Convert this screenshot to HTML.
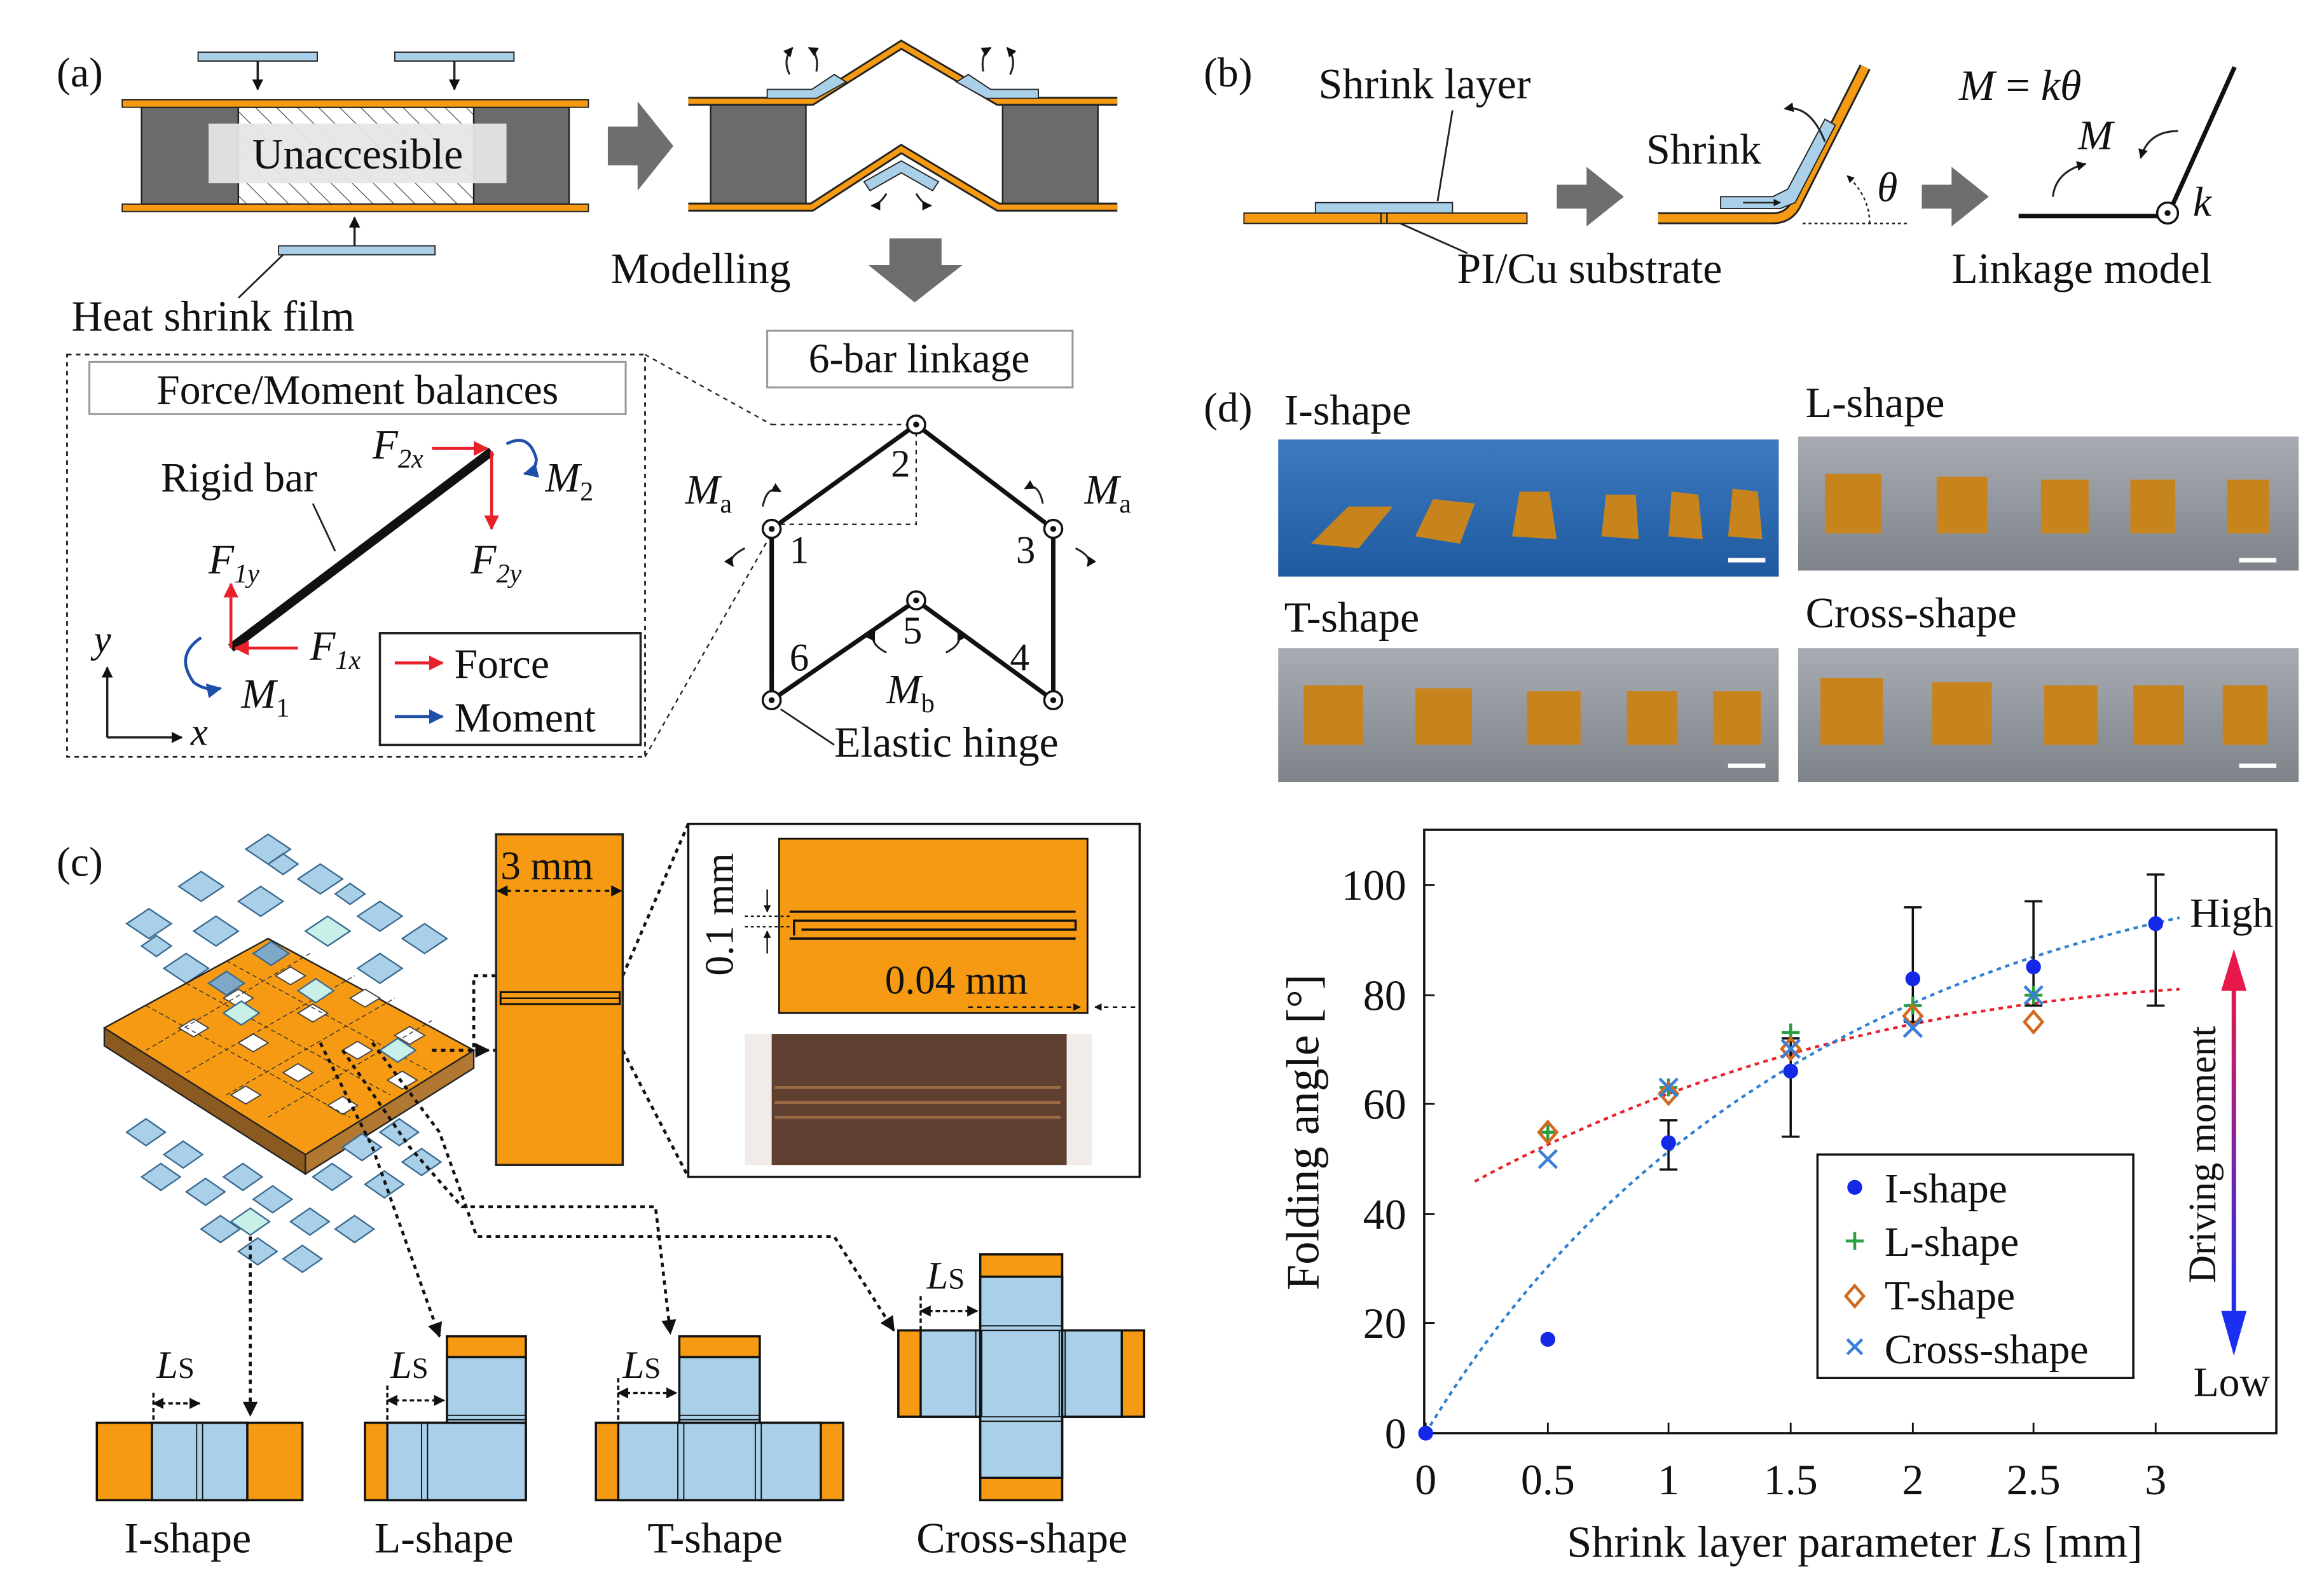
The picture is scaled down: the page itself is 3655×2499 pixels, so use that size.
<!DOCTYPE html>
<html><head><meta charset="utf-8"><style>
html,body{margin:0;padding:0;background:#fff}
svg{display:block}
text{font-family:"Liberation Serif",serif;fill:#111}
</style></head><body>
<svg width="3655" height="2499" viewBox="0 0 1560 1066.6" xmlns="http://www.w3.org/2000/svg">
<defs>
<pattern id="hat" width="10" height="10" patternUnits="userSpaceOnUse" patternTransform="rotate(-45)"><line x1="0" y1="0" x2="0" y2="10" stroke="#444" stroke-width="1"/></pattern>
<marker id="ah" viewBox="0 0 10 10" refX="9" refY="5" markerWidth="5" markerHeight="5" orient="auto-start-reverse"><path d="M0,0L10,5L0,10z" fill="#111"/></marker>
<marker id="ahr" viewBox="0 0 10 10" refX="9" refY="5" markerWidth="5" markerHeight="5" orient="auto"><path d="M0,0L10,5L0,10z" fill="#e8202a"/></marker>
<marker id="ahb" viewBox="0 0 10 10" refX="9" refY="5" markerWidth="5" markerHeight="5" orient="auto"><path d="M0,0L10,5L0,10z" fill="#1f4fa8"/></marker>
<linearGradient id="dm" x1="0" y1="0" x2="0" y2="1"><stop offset="0" stop-color="#e8194a"/><stop offset="1" stop-color="#1c2ef0"/></linearGradient>
<linearGradient id="ph1" x1="0" y1="0" x2="0" y2="1"><stop offset="0" stop-color="#3d7ac0"/><stop offset="1" stop-color="#1f5aa0"/></linearGradient>
<linearGradient id="ph2" x1="0" y1="0" x2="0" y2="1"><stop offset="0" stop-color="#a8acb2"/><stop offset="1" stop-color="#7e838a"/></linearGradient>
</defs>

<!-- ============ (a) ============ -->
<text x="38" y="58" font-size="28">(a)</text>
<rect x="95" y="72" width="65" height="65" fill="#6b6b6b" stroke="#222"/>
<rect x="318" y="72" width="64" height="65" fill="#6b6b6b" stroke="#222"/>
<rect x="160" y="72" width="158" height="65" fill="url(#hat)" stroke="#222"/>
<rect x="82" y="67" width="313" height="5" fill="#f59a12" stroke="#222" stroke-width="0.8"/>
<rect x="82" y="137" width="313" height="5" fill="#f59a12" stroke="#222" stroke-width="0.8"/>
<rect x="140" y="83" width="200" height="40" fill="#e6e6e6" opacity="0.95"/>
<text x="240" y="113" font-size="29" text-anchor="middle" font-family="Liberation Sans">Unaccesible</text>
<rect x="133" y="35" width="80" height="6" fill="#a9d0e8" stroke="#222" stroke-width="0.8"/>
<rect x="265" y="35" width="80" height="6" fill="#a9d0e8" stroke="#222" stroke-width="0.8"/>
<line x1="173" y1="41" x2="173" y2="60" stroke="#222" stroke-width="1.5" marker-end="url(#ah)"/>
<line x1="305" y1="41" x2="305" y2="60" stroke="#222" stroke-width="1.5" marker-end="url(#ah)"/>
<rect x="187" y="165" width="105" height="6" fill="#a9d0e8" stroke="#222" stroke-width="0.8"/>
<line x1="238" y1="165" x2="238" y2="146" stroke="#222" stroke-width="1.5" marker-end="url(#ah)"/>
<line x1="190" y1="171" x2="160" y2="200" stroke="#222" stroke-width="1.2"/>
<text x="48" y="222" font-size="29">Heat shrink film</text>
<polygon points="408,85 428,85 428,68 452,98 428,128 428,111 408,111" fill="#6e6e6e"/>
<rect x="477" y="70" width="64" height="67" fill="#6b6b6b" stroke="#222"/>
<rect x="673" y="70" width="64" height="67" fill="#6b6b6b" stroke="#222"/>
<polyline points="462,68 545,68 605,30 670,68 750,68" fill="none" stroke="#222" stroke-width="6"/>
<polyline points="462,68 545,68 605,30 670,68 750,68" fill="none" stroke="#f59a12" stroke-width="3.5"/>
<polyline points="462,139 545,139 605,100 670,139 750,139" fill="none" stroke="#222" stroke-width="6"/>
<polyline points="462,139 545,139 605,100 670,139 750,139" fill="none" stroke="#f59a12" stroke-width="3.5"/>
<polygon points="515,60 545,60 560,50 568,55 548,66 515,66" fill="#a9d0e8" stroke="#222" stroke-width="0.8"/>
<polygon points="642,55 650,50 665,60 697,60 697,66 662,66" fill="#a9d0e8" stroke="#222" stroke-width="0.8"/>
<polygon points="580,122 605,108 630,122 626,128 605,116 584,128" fill="#a9d0e8" stroke="#222" stroke-width="0.8"/>
<path d="M530,50 q-5,-10 2,-18" fill="none" stroke="#222" stroke-width="1.3" marker-end="url(#ah)"/>
<path d="M548,48 q2,-12 -5,-16" fill="none" stroke="#222" stroke-width="1.3" marker-end="url(#ah)"/>
<path d="M660,48 q-2,-12 5,-16" fill="none" stroke="#222" stroke-width="1.3" marker-end="url(#ah)"/>
<path d="M678,50 q5,-10 -2,-18" fill="none" stroke="#222" stroke-width="1.3" marker-end="url(#ah)"/>
<path d="M595,130 q-5,8 -10,8" fill="none" stroke="#222" stroke-width="1.3" marker-end="url(#ah)"/>
<path d="M615,130 q5,8 10,8" fill="none" stroke="#222" stroke-width="1.3" marker-end="url(#ah)"/>
<text x="410" y="190" font-size="29">Modelling</text>
<polygon points="597,160 632,160 632,178 646,178 614,203 583,178 597,178" fill="#6e6e6e"/>
<rect x="45" y="238" width="388" height="270" fill="none" stroke="#222" stroke-dasharray="3,3" stroke-width="1.2"/>
<rect x="60" y="243" width="360" height="35" fill="#fff" stroke="#999" stroke-width="1.3"/>
<text x="240" y="271" font-size="28" text-anchor="middle">Force/Moment balances</text>
<line x1="155" y1="435" x2="330" y2="303" stroke="#111" stroke-width="6"/>
<text x="108" y="330" font-size="28">Rigid bar</text>
<line x1="210" y1="338" x2="225" y2="370" stroke="#222" stroke-width="1.2"/>
<g stroke="#e8202a" stroke-width="2" fill="none">
<line x1="290" y1="301" x2="327" y2="301" marker-end="url(#ahr)"/>
<line x1="330" y1="303" x2="330" y2="355" marker-end="url(#ahr)"/>
<line x1="155" y1="435" x2="155" y2="392" marker-end="url(#ahr)"/>
<line x1="200" y1="435" x2="158" y2="435" marker-end="url(#ahr)"/>
</g>
<text x="250" y="308" font-size="28" font-style="italic" fill="#e8202a">F<tspan font-size="18" dy="6">2x</tspan></text>
<text x="316" y="385" font-size="28" font-style="italic" fill="#e8202a">F<tspan font-size="18" dy="6">2y</tspan></text>
<text x="140" y="385" font-size="28" font-style="italic" fill="#e8202a">F<tspan font-size="18" dy="6">1y</tspan></text>
<text x="208" y="443" font-size="28" font-style="italic" fill="#e8202a">F<tspan font-size="18" dy="6">1x</tspan></text>
<path d="M340,298 q15,-8 20,10 q0,8 -8,10" fill="none" stroke="#1f4fa8" stroke-width="2" marker-end="url(#ahb)"/>
<text x="366" y="330" font-size="28" font-style="italic" fill="#1f4fa8">M<tspan font-size="18" dy="6" font-style="normal">2</tspan></text>
<path d="M135,428 q-18,12 -5,30 q8,6 18,4" fill="none" stroke="#1f4fa8" stroke-width="2" marker-end="url(#ahb)"/>
<text x="162" y="475" font-size="28" font-style="italic" fill="#1f4fa8">M<tspan font-size="18" dy="6" font-style="normal">1</tspan></text>
<line x1="72" y1="495" x2="72" y2="448" stroke="#222" stroke-width="1.5" marker-end="url(#ah)"/>
<line x1="72" y1="495" x2="122" y2="495" stroke="#222" stroke-width="1.5" marker-end="url(#ah)"/>
<text x="63" y="438" font-size="26" font-style="italic">y</text>
<text x="128" y="500" font-size="26" font-style="italic">x</text>
<rect x="255" y="425" width="175" height="75" fill="#fff" stroke="#222" stroke-width="1.5"/>
<line x1="265" y1="445" x2="297" y2="445" stroke="#e8202a" stroke-width="2" marker-end="url(#ahr)"/>
<line x1="265" y1="481" x2="297" y2="481" stroke="#1f4fa8" stroke-width="2" marker-end="url(#ahb)"/>
<text x="305" y="455" font-size="28">Force</text>
<text x="305" y="491" font-size="28">Moment</text>
<line x1="433" y1="238" x2="518" y2="285" stroke="#222" stroke-dasharray="3,3"/>
<line x1="433" y1="508" x2="518" y2="358" stroke="#222" stroke-dasharray="3,3"/>
<rect x="515" y="222" width="205" height="38" fill="#fff" stroke="#999" stroke-width="1.3"/>
<text x="617" y="250" font-size="28" text-anchor="middle">6-bar linkage</text>
<polyline points="518,470 518,355 615,285 707,355 707,470 615,403 518,470" fill="none" stroke="#111" stroke-width="3"/>
<polyline points="518,285 615,285 615,352 518,352" fill="none" stroke="#222" stroke-dasharray="3,3"/>
<g fill="#fff" stroke="#111" stroke-width="1.5">
<circle cx="518" cy="355" r="6"/><circle cx="615" cy="285" r="6"/><circle cx="707" cy="355" r="6"/>
<circle cx="707" cy="470" r="6"/><circle cx="615" cy="403" r="6"/><circle cx="518" cy="470" r="6"/>
</g>
<g fill="#111"><circle cx="518" cy="355" r="2"/><circle cx="615" cy="285" r="2"/><circle cx="707" cy="355" r="2"/><circle cx="707" cy="470" r="2"/><circle cx="615" cy="403" r="2"/><circle cx="518" cy="470" r="2"/></g>
<text x="530" y="378" font-size="26">1</text><text x="598" y="320" font-size="26">2</text><text x="682" y="378" font-size="26">3</text>
<text x="678" y="450" font-size="26">4</text><text x="606" y="432" font-size="26">5</text><text x="530" y="450" font-size="26">6</text>
<text x="460" y="338" font-size="28" font-style="italic">M<tspan font-size="18" dy="6" font-style="normal">a</tspan></text>
<text x="728" y="338" font-size="28" font-style="italic">M<tspan font-size="18" dy="6" font-style="normal">a</tspan></text>
<text x="595" y="472" font-size="28" font-style="italic">M<tspan font-size="18" dy="6" font-style="normal">b</tspan></text>
<path d="M512,340 q3,-15 12,-10" fill="none" stroke="#222" stroke-width="1.3" marker-end="url(#ah)"/>
<path d="M500,368 q-12,6 -8,12" fill="none" stroke="#222" stroke-width="1.3" marker-end="url(#ah)"/>
<path d="M700,338 q-3,-15 -12,-10" fill="none" stroke="#222" stroke-width="1.3" marker-end="url(#ah)"/>
<path d="M722,368 q12,6 8,12" fill="none" stroke="#222" stroke-width="1.3" marker-end="url(#ah)"/>
<path d="M595,438 q-12,-6 -8,-14" fill="none" stroke="#222" stroke-width="1.3" marker-end="url(#ah)"/>
<path d="M635,438 q12,-6 8,-14" fill="none" stroke="#222" stroke-width="1.3" marker-end="url(#ah)"/>
<line x1="524" y1="476" x2="560" y2="500" stroke="#222" stroke-width="1.2"/>
<text x="560" y="508" font-size="29">Elastic hinge</text>

<!-- ============ (b) ============ -->
<text x="808" y="58" font-size="28">(b)</text>
<rect x="835" y="143" width="190" height="7" fill="#f59a12" stroke="#222" stroke-width="0.8"/>
<rect x="883" y="136" width="92" height="7" fill="#a9d0e8" stroke="#222" stroke-width="0.8"/>
<line x1="927" y1="143" x2="927" y2="150" stroke="#222"/><line x1="931" y1="143" x2="931" y2="150" stroke="#222"/>
<text x="885" y="66" font-size="29">Shrink layer</text>
<line x1="975" y1="74" x2="965" y2="135" stroke="#222" stroke-width="1.2"/>
<line x1="940" y1="150" x2="985" y2="170" stroke="#222" stroke-width="1.2"/>
<text x="978" y="190" font-size="29">PI/Cu substrate</text>
<polygon points="1045,124 1065,124 1065,112 1090,132 1065,152 1065,140 1045,140" fill="#6e6e6e"/>
<path d="M1113,146.5 L1190,146.5 Q1200,146.5 1205,138 L1252,45" fill="none" stroke="#222" stroke-width="8"/>
<path d="M1113,146.5 L1190,146.5 Q1200,146.5 1205,138 L1252,45" fill="none" stroke="#f59a12" stroke-width="5.5"/>
<polygon points="1155,132 1190,132 1200,127 1225,80 1232,84 1205,136 1195,140 1155,140" fill="#a9d0e8" stroke="#222" stroke-width="0.8"/>
<text x="1105" y="110" font-size="29">Shrink</text>
<path d="M1225,95 q-10,-25 -27,-22" fill="none" stroke="#222" stroke-width="1.3" marker-end="url(#ah)"/>
<line x1="1170" y1="136" x2="1195" y2="136" stroke="#222" stroke-width="1" marker-end="url(#ah)"/>
<line x1="1210" y1="150" x2="1280" y2="150" stroke="#222" stroke-dasharray="2,2"/>
<path d="M1255,150 q0,-18 -15,-32" fill="none" stroke="#222" stroke-dasharray="2,2" marker-end="url(#ah)"/>
<text x="1260" y="135" font-size="28" font-style="italic">θ</text>
<polygon points="1290,124 1310,124 1310,112 1335,132 1310,152 1310,140 1290,140" fill="#6e6e6e"/>
<polyline points="1355,145 1455,145 1500,45" fill="none" stroke="#111" stroke-width="3"/>
<circle cx="1455" cy="143" r="7" fill="#fff" stroke="#111" stroke-width="1.5"/><circle cx="1455" cy="143" r="2" fill="#111"/>
<text x="1315" y="67" font-size="29" font-style="italic">M <tspan font-style="normal">=</tspan> kθ</text>
<text x="1395" y="100" font-size="28" font-style="italic">M</text>
<path d="M1440,85 q18,5 18,25" fill="none" stroke="#222" stroke-width="1.3" transform="rotate(-90 1449 97)" marker-start="url(#ah)"/>
<path d="M1400,110 q-20,5 -22,22" fill="none" stroke="#222" stroke-width="1.3" marker-start="url(#ah)"/>
<text x="1472" y="145" font-size="28" font-style="italic">k</text>
<text x="1310" y="190" font-size="29">Linkage model</text>

<!-- ============ (d) photos ============ -->
<text x="808" y="283" font-size="28">(d)</text>
<text x="862" y="285" font-size="29">I-shape</text>
<text x="1212" y="280" font-size="29">L-shape</text>
<text x="862" y="424" font-size="29">T-shape</text>
<text x="1212" y="421" font-size="29">Cross-shape</text>
<rect x="858" y="295" width="336" height="92" fill="url(#ph1)"/>
<rect x="1207" y="293" width="336" height="90" fill="url(#ph2)"/>
<rect x="858" y="435" width="336" height="90" fill="url(#ph2)"/>
<rect x="1207" y="435" width="336" height="90" fill="url(#ph2)"/>
<g fill="#c8841c">
<polygon points="880,365 905,340 935,340 912,368"/><polygon points="950,360 962,335 990,338 980,365"/>
<polygon points="1015,360 1020,330 1040,330 1045,362"/><polygon points="1075,360 1078,332 1098,332 1100,362"/>
<polygon points="1120,360 1122,330 1140,332 1143,362"/><polygon points="1160,360 1163,328 1180,330 1183,362"/>
<rect x="1225" y="318" width="38" height="40"/><rect x="1300" y="320" width="34" height="38"/><rect x="1370" y="322" width="32" height="36"/><rect x="1430" y="322" width="30" height="36"/><rect x="1495" y="322" width="28" height="36"/>
<rect x="875" y="460" width="40" height="40"/><rect x="950" y="462" width="38" height="38"/><rect x="1025" y="464" width="36" height="36"/><rect x="1092" y="464" width="34" height="36"/><rect x="1150" y="464" width="32" height="36"/>
<rect x="1222" y="455" width="42" height="45"/><rect x="1297" y="458" width="40" height="42"/><rect x="1372" y="460" width="36" height="40"/><rect x="1432" y="460" width="34" height="40"/><rect x="1492" y="460" width="30" height="40"/>
</g>
<g stroke="#fff" stroke-width="3"><line x1="1160" y1="376" x2="1185" y2="376"/><line x1="1503" y1="376" x2="1528" y2="376"/><line x1="1160" y1="514" x2="1185" y2="514"/><line x1="1503" y1="514" x2="1528" y2="514"/></g>

<!-- ============ chart ============ -->
<rect x="956" y="557" width="572" height="405" fill="none" stroke="#111" stroke-width="1.5"/>
<g stroke="#111" stroke-width="1.2">
<line x1="957" y1="962" x2="957" y2="955"/><line x1="1039" y1="962" x2="1039" y2="955"/><line x1="1120" y1="962" x2="1120" y2="955"/><line x1="1202" y1="962" x2="1202" y2="955"/><line x1="1284" y1="962" x2="1284" y2="955"/><line x1="1365" y1="962" x2="1365" y2="955"/><line x1="1447" y1="962" x2="1447" y2="955"/>
<line x1="956" y1="594" x2="963" y2="594"/><line x1="956" y1="668" x2="963" y2="668"/><line x1="956" y1="741" x2="963" y2="741"/><line x1="956" y1="815" x2="963" y2="815"/><line x1="956" y1="888" x2="963" y2="888"/>
</g>
<g font-size="29" text-anchor="middle">
<text x="957" y="1003">0</text><text x="1039" y="1003">0.5</text><text x="1120" y="1003">1</text><text x="1202" y="1003">1.5</text><text x="1284" y="1003">2</text><text x="1365" y="1003">2.5</text><text x="1447" y="1003">3</text>
</g>
<g font-size="29" text-anchor="end">
<text x="944" y="604">100</text><text x="944" y="678">80</text><text x="944" y="751">60</text><text x="944" y="825">40</text><text x="944" y="898">20</text><text x="944" y="972">0</text>
</g>
<text x="1245" y="1045" font-size="30" text-anchor="middle">Shrink layer parameter <tspan font-style="italic">L</tspan><tspan font-size="24">S</tspan> [mm]</text>
<text transform="translate(885,760) rotate(-90)" font-size="31" text-anchor="middle">Folding angle  [°]</text>
<path d="M990,793 Q1200,680 1463,664" fill="none" stroke="#e8202a" stroke-width="1.8" stroke-dasharray="3,3"/>
<path d="M957,962 Q1120,690 1463,616" fill="none" stroke="#2f7fd0" stroke-width="1.8" stroke-dasharray="3,3"/>
<g stroke="#111" stroke-width="1.5">
<line x1="1120" y1="785" x2="1120" y2="752"/><line x1="1114" y1="785" x2="1126" y2="785"/><line x1="1114" y1="752" x2="1126" y2="752"/>
<line x1="1202" y1="763" x2="1202" y2="697"/><line x1="1196" y1="763" x2="1208" y2="763"/><line x1="1196" y1="697" x2="1208" y2="697"/>
<line x1="1284" y1="686" x2="1284" y2="609"/><line x1="1278" y1="686" x2="1290" y2="686"/><line x1="1278" y1="609" x2="1290" y2="609"/>
<line x1="1365" y1="675" x2="1365" y2="605"/><line x1="1359" y1="675" x2="1371" y2="675"/><line x1="1359" y1="605" x2="1371" y2="605"/>
<line x1="1447" y1="675" x2="1447" y2="587"/><line x1="1441" y1="675" x2="1453" y2="675"/><line x1="1441" y1="587" x2="1453" y2="587"/>
</g>
<path d="M1033,760h12M1039,754v12M1114,730h12M1120,724v12M1196,693h12M1202,687v12M1278,675h12M1284,669v12M1359,668h12M1365,662v12" stroke="#2aa040" stroke-width="2"/>
<path d="M1039,753l6,7l-6,7l-6,-7z M1120,727l6,7l-6,7l-6,-7z M1202,697l6,7l-6,7l-6,-7z M1284,675l6,7l-6,7l-6,-7z M1365,679l6,7l-6,7l-6,-7z" fill="none" stroke="#d2691e" stroke-width="2"/>
<path d="M1033,772l12,12M1045,772l-12,12 M1114,724l12,12M1126,724l-12,12 M1196,698l12,12M1208,698l-12,12 M1278,684l12,12M1290,684l-12,12 M1359,662l12,12M1371,662l-12,12" stroke="#3a80d8" stroke-width="2"/>
<g fill="#1428e8"><circle cx="957" cy="962" r="5"/><circle cx="1039" cy="899" r="5"/><circle cx="1120" cy="767" r="5"/><circle cx="1202" cy="719" r="5"/><circle cx="1284" cy="657" r="5"/><circle cx="1365" cy="649" r="5"/><circle cx="1447" cy="620" r="5"/></g>
<rect x="1220" y="775" width="212" height="150" fill="#fff" stroke="#111" stroke-width="1.5"/>
<circle cx="1245" cy="797" r="5" fill="#1428e8"/>
<path d="M1239,833h12M1245,827v12" stroke="#2aa040" stroke-width="2"/>
<path d="M1245,863l6,7l-6,7l-6,-7z" fill="none" stroke="#d2691e" stroke-width="2"/>
<path d="M1240,899l10,10M1250,899l-10,10" stroke="#3a80d8" stroke-width="2"/>
<g font-size="28"><text x="1265" y="807">I-shape</text><text x="1265" y="843">L-shape</text><text x="1265" y="879">T-shape</text><text x="1265" y="915">Cross-shape</text></g>
<text x="1498" y="622" font-size="28" text-anchor="middle" fill="#e8202a">High</text>
<text x="1498" y="937" font-size="28" text-anchor="middle" fill="#1c2ef0">Low</text>
<rect x="1498" y="660" width="3" height="220" fill="url(#dm)"/>
<polygon points="1491,665 1499.5,637 1508,665" fill="#e8194a"/>
<polygon points="1491,880 1499.5,910 1508,880" fill="#1c2ef0"/>
<text transform="translate(1487,775) rotate(-90)" font-size="26" text-anchor="middle">Driving moment</text>

<!-- ============ (c) ============ -->
<text x="38" y="588" font-size="28">(c)</text>
<g fill="#a9d0e8" stroke="#3a6a90" stroke-width="1">
<path d="M165,570l15,-10l15,10l-15,10z M120,595l15,-10l15,10l-15,10z M200,590l15,-10l15,10l-15,10z M160,605l15,-10l15,10l-15,10z M85,620l15,-10l15,10l-15,10z M130,625l15,-10l15,10l-15,10z M240,615l15,-10l15,10l-15,10z M110,650l15,-10l15,10l-15,10z M270,630l15,-10l15,10l-15,10z M240,650l15,-10l15,10l-15,10z M180,580l10,-7l10,7l-10,7z M95,635l10,-7l10,7l-10,7z M225,600l10,-7l10,7l-10,7z"/>
</g>
<path d="M205,625l15,-10l15,10l-15,10z" fill="#c8f0e8" stroke="#3a6a90"/>
<polygon points="70,690 180,630 318,705 205,775 205,788 70,702" fill="#8a5a20" stroke="#222"/>
<polygon points="318,705 318,717 205,788 205,775" fill="#b07830" stroke="#222"/>
<polygon points="70,690 180,630 318,705 205,775" fill="#f59a12" stroke="#222"/>
<path d="M150,670l10,-6l10,6l-10,6z M185,655l10,-6l10,6l-10,6z M120,690l10,-6l10,6l-10,6z M160,700l10,-6l10,6l-10,6z M200,680l10,-6l10,6l-10,6z M235,670l10,-6l10,6l-10,6z M190,720l10,-6l10,6l-10,6z M230,705l10,-6l10,6l-10,6z M265,695l10,-6l10,6l-10,6z M220,742l10,-6l10,6l-10,6z M260,725l10,-6l10,6l-10,6z M155,735l10,-6l10,6l-10,6z" fill="#fff" stroke="#444" stroke-width="0.8"/>
<path d="M98,675L235,750 M125,660L262,735 M152,645L290,720 M98,705L208,640 M125,720L238,655 M152,735L265,670 M180,750L290,685" stroke="#333" stroke-width="0.6" stroke-dasharray="3,2" fill="none"/>
<path d="M140,660l12,-8l12,8l-12,8z M170,640l12,-8l12,8l-12,8z" fill="#7ea7c8" stroke="#3a6a90"/>
<path d="M200,665l12,-8l12,8l-12,8z M150,680l12,-8l12,8l-12,8z M255,705l12,-8l12,8l-12,8z" fill="#c8f0e8" stroke="#3a6a90"/>
<g fill="#a9d0e8" stroke="#3a6a90" stroke-width="1">
<path d="M85,760l13,-9l13,9l-13,9z M110,775l13,-9l13,9l-13,9z M95,790l13,-9l13,9l-13,9z M125,800l13,-9l13,9l-13,9z M150,790l13,-9l13,9l-13,9z M170,805l13,-9l13,9l-13,9z M230,770l13,-9l13,9l-13,9z M255,760l13,-9l13,9l-13,9z M210,790l13,-9l13,9l-13,9z M245,795l13,-9l13,9l-13,9z M195,820l13,-9l13,9l-13,9z M225,825l13,-9l13,9l-13,9z M135,825l13,-9l13,9l-13,9z M160,840l13,-9l13,9l-13,9z M190,845l13,-9l13,9l-13,9z M270,780l13,-9l13,9l-13,9z"/>
</g>
<path d="M155,820l13,-9l13,9l-13,9z" fill="#c8f0e8" stroke="#3a6a90"/>
<g fill="none" stroke="#111" stroke-width="2" stroke-dasharray="3,3">
<line x1="290" y1="705" x2="328" y2="705" marker-end="url(#ah)"/>
<line x1="168" y1="830" x2="168" y2="950" marker-end="url(#ah)"/>
<polyline points="215,700 250,770 295,897" marker-end="url(#ah)"/>
<polyline points="230,705 275,770 310,810 440,810 450,895" marker-end="url(#ah)"/>
<polyline points="250,700 295,760 320,830 560,830 600,893" marker-end="url(#ah)"/>
<polyline points="333,655 318,655 318,705 333,705"/>
<line x1="418" y1="655" x2="462" y2="553"/>
<line x1="418" y1="705" x2="462" y2="790"/>
</g>
<rect x="333" y="560" width="85" height="222" fill="#f59a12" stroke="#222" stroke-width="1.5"/>
<text x="336" y="590" font-size="27">3 mm</text>
<line x1="334" y1="598" x2="417" y2="598" stroke="#111" stroke-width="1.5" stroke-dasharray="3,3" marker-start="url(#ah)" marker-end="url(#ah)"/>
<rect x="336" y="666" width="80" height="8" fill="none" stroke="#111" stroke-width="1.3"/>
<line x1="336" y1="670" x2="416" y2="670" stroke="#111"/>
<rect x="462" y="553" width="303" height="237" fill="#fff" stroke="#111" stroke-width="1.5"/>
<rect x="523" y="563" width="207" height="117" fill="#f59a12" stroke="#111" stroke-width="1.2"/>
<g stroke="#111" stroke-width="1.5" fill="none"><line x1="530" y1="612" x2="722" y2="612"/><line x1="530" y1="630" x2="722" y2="630"/><polyline points="533,628 533,618 722,618 722,624 538,624"/></g>
<text transform="translate(492,655) rotate(-90)" font-size="27">0.1 mm</text>
<g stroke="#111" stroke-dasharray="2,2"><line x1="500" y1="615" x2="530" y2="615"/><line x1="500" y1="622" x2="530" y2="622"/></g>
<line x1="515" y1="597" x2="515" y2="612" stroke="#111" marker-end="url(#ah)"/>
<line x1="515" y1="640" x2="515" y2="625" stroke="#111" marker-end="url(#ah)"/>
<text x="594" y="667" font-size="27">0.04 mm</text>
<line x1="650" y1="676" x2="725" y2="676" stroke="#111" stroke-dasharray="3,3" marker-end="url(#ah)"/>
<line x1="762" y1="676" x2="735" y2="676" stroke="#111" stroke-dasharray="3,3" marker-end="url(#ah)"/>
<rect x="500" y="694" width="233" height="88" fill="#f1ecea"/>
<rect x="518" y="694" width="198" height="88" fill="#5e3f30"/>
<g stroke="#9a6a45" stroke-width="2"><line x1="520" y1="730" x2="712" y2="730"/><line x1="520" y1="740" x2="712" y2="740"/><line x1="520" y1="750" x2="712" y2="750"/></g>
<g stroke="#111" stroke-width="1.5">
<rect x="65" y="955" width="138" height="52" fill="#f59a12"/><rect x="102" y="955" width="64" height="52" fill="#a9d0e8"/>
<rect x="300" y="897" width="53" height="14" fill="#f59a12"/><rect x="245" y="955" width="108" height="52" fill="#f59a12"/>
<rect x="260" y="955" width="93" height="52" fill="#a9d0e8"/><rect x="300" y="911" width="53" height="44" fill="#a9d0e8"/>
<rect x="400" y="955" width="166" height="52" fill="#f59a12"/><rect x="456" y="897" width="54" height="14" fill="#f59a12"/>
<rect x="415" y="955" width="136" height="52" fill="#a9d0e8"/><rect x="456" y="911" width="54" height="44" fill="#a9d0e8"/>
<rect x="603" y="893" width="165" height="58" fill="#f59a12"/><rect x="658" y="842" width="55" height="165" fill="#f59a12"/>
<rect x="618" y="893" width="135" height="58" fill="#a9d0e8"/><rect x="658" y="857" width="55" height="135" fill="#a9d0e8"/>
</g>
<path d="M132,955v52M136,955v52 M283,955v52M287,955v52 M300,950h53M300,953h53 M455,955v52M459,955v52 M507,955v52M511,955v52 M456,950h54M456,953h54 M655,893v58M659,893v58 M711,893v58M715,893v58 M658,890h55M658,893h55 M658,951h55M658,954h55" stroke="#111" stroke-width="0.8"/>
<g font-size="26" font-style="italic">
<text x="105" y="925">L<tspan font-style="normal" font-size="20">S</tspan></text>
<text x="262" y="925">L<tspan font-style="normal" font-size="20">S</tspan></text>
<text x="418" y="925">L<tspan font-style="normal" font-size="20">S</tspan></text>
<text x="622" y="865">L<tspan font-style="normal" font-size="20">S</tspan></text>
</g>
<g stroke="#111" stroke-width="1.5" stroke-dasharray="3,2">
<line x1="103" y1="942" x2="134" y2="942" marker-start="url(#ah)" marker-end="url(#ah)"/>
<line x1="260" y1="940" x2="298" y2="940" marker-start="url(#ah)" marker-end="url(#ah)"/>
<line x1="415" y1="935" x2="454" y2="935" marker-start="url(#ah)" marker-end="url(#ah)"/>
<line x1="618" y1="880" x2="656" y2="880" marker-start="url(#ah)" marker-end="url(#ah)"/>
<line x1="103" y1="935" x2="103" y2="955"/><line x1="260" y1="930" x2="260" y2="955"/><line x1="415" y1="925" x2="415" y2="955"/><line x1="618" y1="870" x2="618" y2="893"/>
</g>
<g font-size="29" text-anchor="middle">
<text x="126" y="1042">I-shape</text><text x="298" y="1042">L-shape</text><text x="480" y="1042">T-shape</text><text x="686" y="1042">Cross-shape</text>
</g>
</svg>
</body></html>
